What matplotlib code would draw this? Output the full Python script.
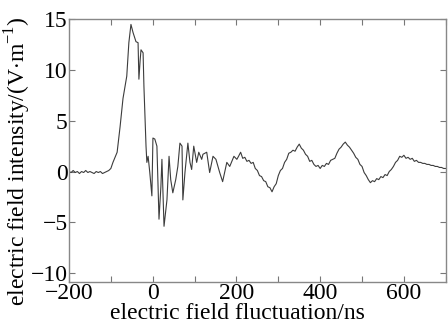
import numpy as np
import matplotlib
matplotlib.use("Agg")
import matplotlib.pyplot as plt

plt.rcParams['font.family'] = ['Liberation Serif', 'DejaVu Serif']
plt.rcParams['mathtext.fontset'] = 'custom'
plt.rcParams['mathtext.rm'] = 'Liberation Serif'

# time (ns) and field (V/m)
# quiet baseline before the pulse
t_base = [-200, -195, -190, -185, -180, -175, -170, -165, -160, -155, -150, -145, -140,
          -135, -130, -125, -120, -115, -110, -105]
e_base = [0.0, -0.1, 0.1, -0.1, 0.0, -0.2, 0.0, -0.1, 0.1, -0.1, 0.0, -0.1, -0.2,
          0.0, -0.1, 0.0, -0.2, -0.1, 0.0, 0.1]

# main pulse and ringing
t_pulse = [-100, -95, -85, -78, -71, -62, -57, -52, -47, -43, -40, -35, -33, -30, -28,
           -23, -21, -16, -14, -11, -7, -2, 0.5, 5, 10, 15, 19.5, 22, 27, 34, 39, 43,
           48, 55, 60, 65, 70, 72, 77, 84, 89, 93, 98, 105, 110, 117, 120, 129, 136,
           144, 151, 160, 167, 177, 184, 194, 201]
e_pulse = [0.3, 0.9, 1.9, 4.4, 7.2, 9.4, 12.7, 14.5, 13.7, 13.2, 12.8, 12.7, 9.1, 11.0,
           12.0, 11.7, 8.4, 2.5, 0.9, 1.5, -0.1, -2.4, 3.3, 3.2, 2.5, -4.7, -1.5, 1.2,
           -5.4, -2.8, 1.5, -0.8, -2.1, -0.8, 0.5, 2.8, 2.5, -2.8, -0.1, 2.8, 0.9, 0.2,
           2.5, 0.9, 1.9, 1.2, 1.7, 1.9, -0.1, 1.5, 1.2, -0.1, -1.0, 0.9, 0.5, 1.5, 1.2]

# slow tail
t_tail = [205, 210, 215, 220, 225, 230, 235, 240, 245, 250, 255, 260, 265, 270, 275,
          280, 285, 290, 295, 300, 305, 310, 315, 320, 325, 330, 335, 340, 345, 350,
          355, 360, 365, 370, 375, 380, 385, 390, 395, 400, 405, 410, 415, 420, 425,
          430, 435, 440, 445, 450, 455, 460, 465, 470, 475, 480, 485, 490, 495, 500,
          505, 510, 515, 520, 525, 530, 535, 540, 545, 550, 555, 560, 565, 570, 575,
          580, 585, 590, 595, 600, 605, 610, 615, 620, 625, 630, 635, 640, 645, 650,
          655, 660, 665, 670, 675, 680, 685, 690, 695, 700]
e_tail = [1.5, 1.9, 1.3, 1.4, 1.0, 1.1, 0.8, 0.9, 0.3, 0.1, -0.4, -0.5, -0.9, -1.0, -1.5,
          -1.6, -2.0, -1.5, -1.2, -0.4, 0.1, 0.3, 0.9, 1.2, 1.8, 1.9, 2.1, 2.0, 2.4, 2.7,
          2.3, 2.1, 1.7, 1.5, 1.0, 1.1, 0.7, 0.5, 0.6, 0.3, 0.6, 0.5, 0.8, 0.7, 1.1,
          1.2, 1.3, 1.8, 2.2, 2.4, 2.7, 2.9, 2.6, 2.4, 2.1, 1.8, 1.4, 1.2, 0.7, 0.5,
          -0.1, -0.4, -0.8, -1.1, -0.9, -1.0, -0.7, -0.8, -0.5, -0.6, -0.3, -0.4, 0.0, 0.2, 0.5,
          0.9, 1.1, 1.5, 1.4, 1.6, 1.3, 1.4, 1.2, 1.3, 1.0, 1.1, 0.9, 0.9, 0.8, 0.8,
          0.7, 0.7, 0.6, 0.6, 0.5, 0.5, 0.4, 0.4, 0.3, 0.3]

t = t_base + t_pulse + t_tail
e = e_base + e_pulse + e_tail

fig = plt.figure(figsize=(4.48, 3.28), dpi=100)
ax = fig.add_axes([0.154, 0.140, 0.841, 0.801])
ax.plot(t, e, color='#3c3c3c', lw=0.8)

ax.set_xlim(-200, 700)
ax.set_ylim(-10.9, 15)
ax.set_xticks(np.arange(-200, 701, 100))
ax.set_xticklabels([str(v).replace('-', '\u2212') if v % 200 == 0 else '' for v in range(-200, 701, 100)])
ax.set_yticks([-10, -5, 0, 5, 10, 15])
ax.set_yticklabels(['\u221210', '\u22125', '0', '5', '10', '15'])
ax.tick_params(direction='in', top=True, right=True, length=4, width=0.8,
               color='#777777', labelsize=17, pad=1)
for s in ax.spines.values():
    s.set_color('#888888')
    s.set_linewidth(1.0)

ax.set_xlabel('electric field fluctuation/ns', fontsize=17)
ax.set_ylabel(r'electric field intensity/(V$\cdot$m$^{-1}$)', fontsize=17)
ax.xaxis.set_label_coords(0.446, -0.08)
ax.yaxis.set_label_coords(-0.095, 0.46)

fig.savefig('out.png', dpi=100)
